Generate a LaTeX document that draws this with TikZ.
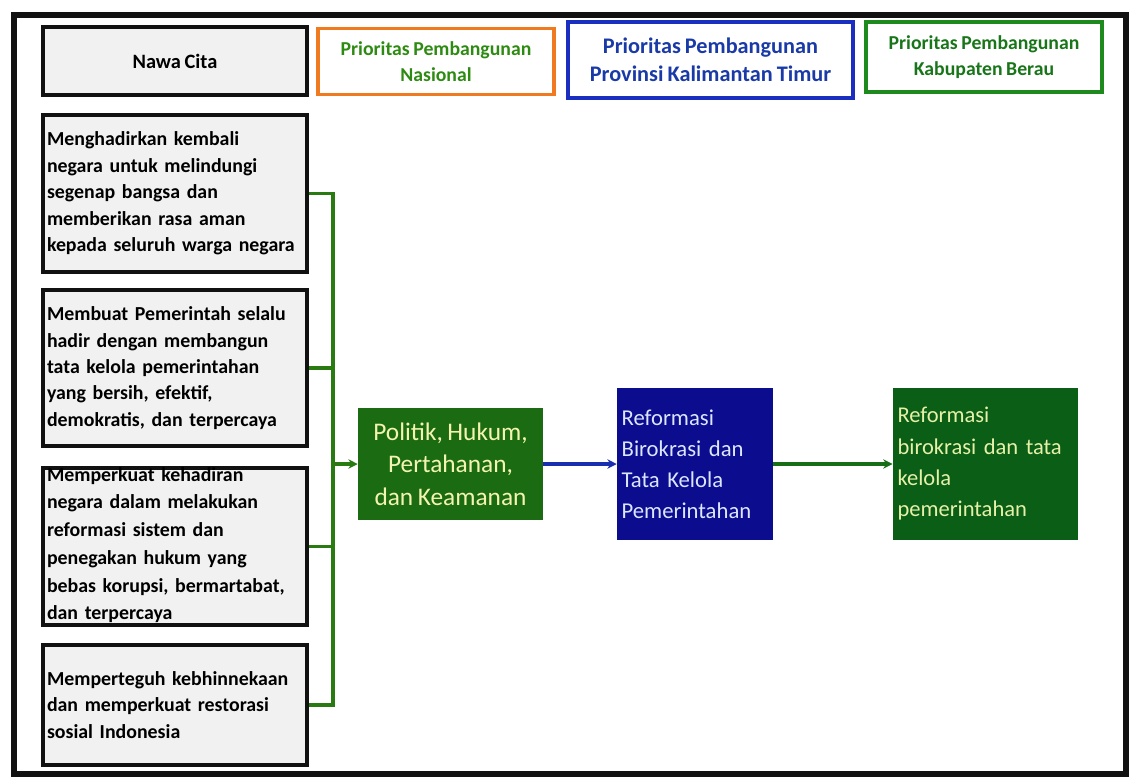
\documentclass[tikz,border=0pt]{standalone}
\usepackage{fontspec}
\setmainfont{Carlito}[WordSpace=0.8]
\usetikzlibrary{arrows.meta}
\definecolor{frameblack}{HTML}{111111}
\definecolor{boxgray}{HTML}{F1F1F1}
\definecolor{orangeb}{HTML}{F07A20}
\definecolor{blueb}{HTML}{1A2FBF}
\definecolor{greenb}{HTML}{1E8A1E}
\definecolor{gtext}{HTML}{2E8B12}
\definecolor{btext}{HTML}{1A3AA8}
\definecolor{polfill}{HTML}{1B6B12}
\definecolor{polt}{HTML}{F4F4B0}
\definecolor{bluefill}{HTML}{0C0C8E}
\definecolor{bluet}{HTML}{DCE6FF}
\definecolor{grnfill}{HTML}{0B5E16}
\definecolor{grnt}{HTML}{E6F0A8}
\definecolor{conng}{HTML}{2A7A12}
\definecolor{connb}{HTML}{1A2FAE}
\tikzset{
  hdr/.style={draw, line width=2.4pt, align=center, font=\bfseries\fontsize{14.8}{19}\selectfont, inner sep=0pt},
  lbox/.style={draw=frameblack, fill=boxgray, line width=2.4pt, minimum width=198pt, text width=192pt, align=left, inner xsep=3pt, inner ysep=0pt, font=\bfseries\fontsize{14.9}{19.8}\selectfont},
  cbox/.style={inner sep=0pt, line width=0pt},
  conn/.style={conng, line width=2.6pt},
  arr/.style={line width=2.6pt, -{Stealth[length=7pt,width=7pt]}}
}
\begin{document}
\begin{tikzpicture}[x=0.75pt,y=-0.75pt]
\useasboundingbox (0,0) rectangle (1130,778);
\fill[white] (0,0) rectangle (1130,778);
\draw[frameblack, line width=3.8pt] (14,15) rectangle (1126,774);
% headers
\node[hdr, draw=frameblack, fill=boxgray, font=\bfseries\fontsize{15.3}{19}\selectfont, minimum width=198pt, minimum height=51pt] (nawa) at (175,61) {Nawa Cita};
\node[hdr, draw=orangeb, text=gtext, minimum width=177pt, minimum height=50pt] (nas) at (436,61.5) {Prioritas Pembangunan\\Nasional};
\node[hdr, draw=blueb, text=btext, font=\bfseries\fontsize{16.7}{21}\selectfont, minimum width=213.75pt, minimum height=57pt] (prov) at (710.5,60) {Prioritas Pembangunan\\Provinsi Kalimantan Timur};
\node[hdr, draw=greenb, text=greenb!85!black, minimum width=177pt, minimum height=52.5pt] (kab) at (984,57) {Prioritas Pembangunan\\Kabupaten Berau};
% left boxes
\node[lbox, minimum height=117.75pt] (b1) at (175,193.5) {Menghadirkan kembali\\negara untuk melindungi\\segenap bangsa dan\\memberikan rasa aman\\kepada seluruh warga negara};
\node[lbox, minimum height=117pt] (b2) at (175,368) {Membuat Pemerintah selalu\\hadir dengan membangun\\tata kelola pemerintahan\\yang bersih, efektif,\\demokratis, dan terpercaya};
\node[lbox, minimum height=117.75pt] (b3) at (175,546.5) {};
\node[cbox, text width=192pt, align=left, font=\bfseries\fontsize{14.9}{20.8}\selectfont] (b3t) at (175,545) {Memperkuat kehadiran\\negara dalam melakukan\\reformasi sistem dan\\penegakan hukum yang\\bebas korupsi, bermartabat,\\dan terpercaya};
\node[lbox, minimum height=90pt] (b4) at (175,705) {Memperteguh kebhinnekaan\\dan memperkuat restorasi\\sosial Indonesia};
% middle boxes
\node[fill=polfill, text=polt, minimum width=138.75pt, minimum height=84pt, align=center, font=\fontsize{19}{24.4}\selectfont, inner sep=0pt] (pol) at (450.5,464) {Politik, Hukum,\\Pertahanan,\\dan Keamanan};
\node[fill=bluefill, text=bluet, minimum width=117pt, minimum height=114pt, text width=110pt, align=left, font=\fontsize{17}{23.2}\selectfont, inner xsep=3.5pt, inner ysep=0pt] (ref) at (695,464) {Reformasi\\Birokrasi dan\\Tata Kelola\\Pemerintahan};
\node[fill=grnfill, text=grnt, minimum width=138.75pt, minimum height=114pt, text width=132pt, align=left, font=\fontsize{16.9}{23.5}\selectfont, inner xsep=3.5pt, inner ysep=0pt] (rb) at (985.5,464) {Reformasi\\birokrasi dan tata\\kelola\\pemerintahan};
% connectors
\coordinate (bus) at (333,193);
\coordinate (busb) at (333,705);
\draw[conn] (b1.east) -- (b1.east -| bus) -- (busb) -- (b4.east);
\draw[conn] (b2.east) -- (b2.east -| bus);
\draw[conn] (b3.east) -- (b3.east -| bus);
\draw[arr, conng] (bus |- pol.west) -- (pol.west);
\draw[arr, connb] (pol.east) -- (ref.west);
\draw[arr, greenb!80!black] (ref.east) -- (rb.west);
\end{tikzpicture}
\end{document}
